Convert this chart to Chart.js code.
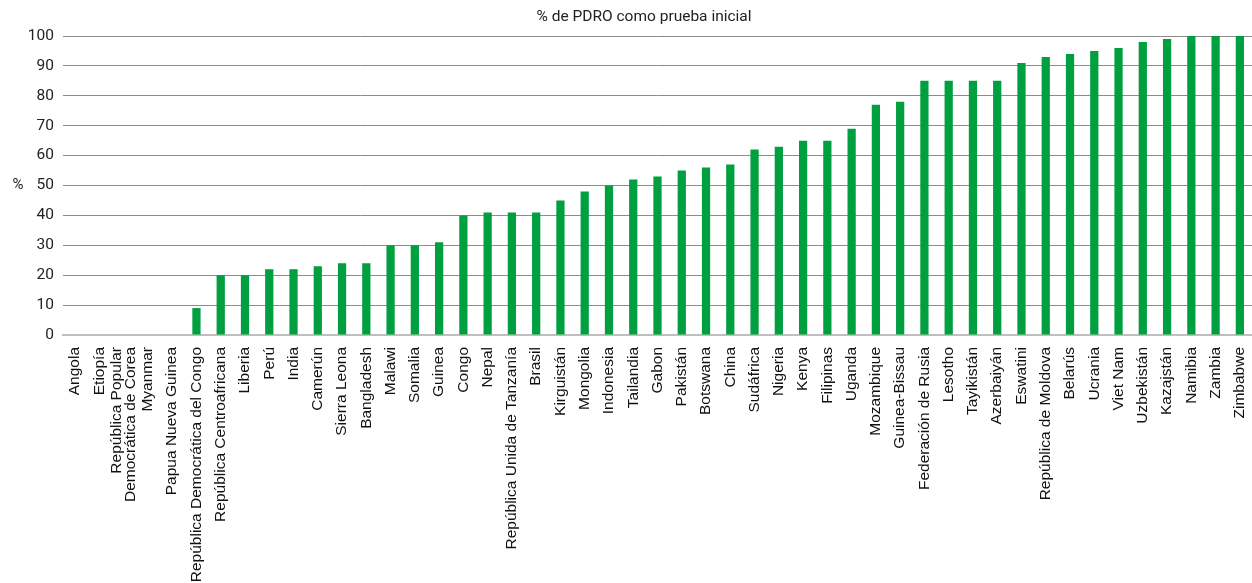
<!DOCTYPE html>
<html><head><meta charset="utf-8">
<script src="https://cdn.jsdelivr.net/npm/chart.js@4/dist/chart.umd.min.js"></script>
<style>html,body{margin:0;padding:0;background:#fff}#wrap{width:1252px;height:583px;position:relative}</style>
</head><body><div id="wrap"><canvas id="c"></canvas></div>
<script>
const categories = ['Angola','Etiopía',['República Popular','Democrática de Corea'],'Myanmar','Papua Nueva Guinea','República Democrática del Congo','República Centroafricana','Liberia','Perú','India','Camerún','Sierra Leona','Bangladesh','Malawi','Somalia','Guinea','Congo','Nepal','República Unida de Tanzanía','Brasil','Kirguistán','Mongolia','Indonesia','Tailandia','Gabon','Pakistán','Botswana','China','Sudáfrica','Nigeria','Kenya','Filipinas','Uganda','Mozambique','Guinea-Bissau','Federación de Rusia','Lesotho','Tayikistán','Azerbaiyán','Eswatini','República de Moldova','Belarús','Ucrania','Viet Nam','Uzbekistán','Kazajstán','Namibia','Zambia','Zimbabwe'];
const values = [0,0,0,0,0,9,20,20,22,22,23,24,24,30,30,31,40,41,41,41,45,48,50,52,53,55,56,57,62,63,65,65,69,77,78,85,85,85,85,91,93,94,95,96,98,99,100,100,100];
const yTicks = [0,10,20,30,40,50,60,70,80,90,100];
const title = '% de PDRO como prueba inicial';
const yLabel = '%';

const textPlugin = {
  id:'texts',
  beforeDraw(chart){
    const xs = chart.scales.x;
    const items = xs.getLabelItems();
    items.forEach(it => {
      if (Array.isArray(it.label) && !it._shifted) {
        const lh = 15.5 * 0.9;
        it.options.translation[0] -= lh * (it.label.length - 1) / 2;
        it._shifted = true;
      }
    });
  },
  afterDraw(chart){
    const ctx = chart.ctx, y = chart.scales.y;
    ctx.save();
    ctx.fillStyle = '#222';
    ctx.textAlign = 'center';
    ctx.textBaseline = 'middle';
    ctx.font = '15px Roboto';
    ctx.fillText(yLabel, 18, y.getPixelForValue(50));
    ctx.font = '15.5px Roboto';
    ctx.fillText(title, 644, 17);
    ctx.restore();
  }
};

new Chart(document.getElementById('c'), {
  type:'bar',
  data:{labels:categories, datasets:[{data:values, backgroundColor:'#00a040', barPercentage:0.34, categoryPercentage:1}]},
  options:{
    responsive:true, maintainAspectRatio:false, animation:false,
    layout:{padding:{left:0,right:0,top:36,bottom:0}},
    plugins:{ legend:{display:false}, tooltip:{enabled:false}, title:{display:false} },
    scales:{
      x:{
        grid:{display:false},
        border:{display:true, color:'#bfbfbf', width:2},
        ticks:{minRotation:90, maxRotation:90, autoSkip:false, color:'#111', font:{family:"'Liberation Sans', Arial, sans-serif", size:15.5, lineHeight:0.9}, padding:4},
        afterFit(s){ s.height = 248; s.paddingLeft = 0; s.paddingRight = 0; }
      },
      y:{
        min:0, max:100,
        afterBuildTicks(s){ s.ticks = yTicks.map(v=>({value:v})); },
        grid:{color:'#8c8c8c', lineWidth:1, drawTicks:false},
        border:{display:false},
        ticks:{color:'#222', font:{family:'Roboto', size:15.5}, padding:9},
        afterFit(s){ s.width = 63; s.paddingTop = 0; s.paddingBottom = 0; }
      }
    }
  },
  plugins:[textPlugin]
});
</script></body></html>
